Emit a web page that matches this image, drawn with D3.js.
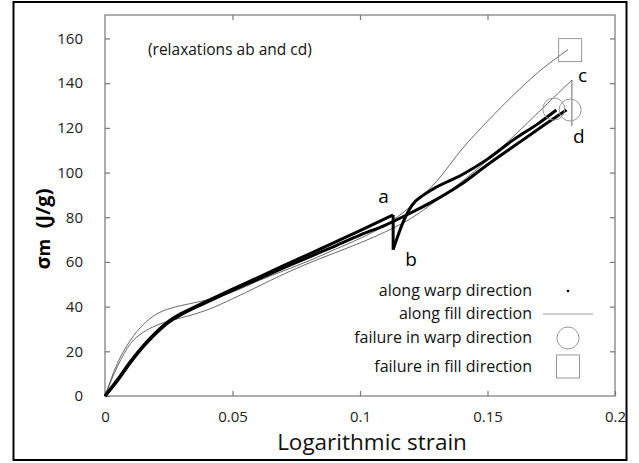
<!DOCTYPE html>
<html>
<head>
<meta charset="utf-8">
<script src="https://cdn.jsdelivr.net/npm/d3@7"></script>
<style>
body { margin: 0; background: #fff; }
text { font-family: "Open Sans", sans-serif; }
</style>
</head>
<body>
<svg id="chart" width="639" height="463"></svg>
<script>
// [strain, sigma_m] pairs
var warpAPre = [[0,0],[0.005,7.5],[0.01,15.5],[0.015,22.5],[0.02,28.5],[0.025,33.5],[0.03,37],[0.035,39.8],
  [0.04,42.5],[0.05,47.8],[0.06,53],[0.07,58.3],[0.08,63.5],[0.09,68.7],[0.1,74],[0.113,81]];
var warpAPost = [[0.113,65.5],[0.117,78],[0.1205,85.5],[0.125,90],[0.13,93.5],[0.14,99],[0.15,106],
  [0.16,114.5],[0.17,122],[0.177,128]];
var warpB = [[0,0],[0.005,7],[0.01,15],[0.015,22],[0.02,28],[0.025,33],[0.03,36.5],[0.04,42],[0.05,47.3],
  [0.06,52.3],[0.07,57.3],[0.08,62.2],[0.09,67],[0.1,72],[0.11,76.5],[0.12,82],[0.13,88],[0.14,95],
  [0.15,103.5],[0.16,111.5],[0.17,119.5],[0.181,128]];
var fillA = [[0,0],[0.005,15],[0.01,25],[0.015,32],[0.02,36.5],[0.025,39],[0.03,40.5],[0.04,43],[0.05,46.5],
  [0.06,51.5],[0.07,56],[0.08,60.5],[0.09,65.5],[0.1,70.5],[0.11,76.5],[0.12,85],[0.13,96],[0.14,110.5],
  [0.15,123],[0.16,134.5],[0.17,145],[0.1816,155]];
var fillB = [[0,0],[0.005,13.5],[0.01,23.5],[0.015,28.5],[0.02,31.5],[0.025,33.5],[0.03,35],[0.04,38.5],
  [0.05,43.5],[0.06,49],[0.07,54.5],[0.08,59.5],[0.09,64],[0.1,68.5],[0.11,73.5],[0.12,79.5],[0.13,87.5],
  [0.14,96],[0.15,105.5],[0.16,116],[0.17,127],[0.1831,141.4]];
var relaxAB = [[0.113,81],[0.113,65.5]];
var relaxCD = [[0.1831,141.4],[0.1831,120.8]];
var warpFailures = [[0.176,128.4],[0.1824,128]];
var fillFailures = [[0.1824,154.8]];
var xTicks = [0, 0.05, 0.1, 0.15, 0.2];
var xTickLabels = ["0", "0.05", "0.1", "0.15", "0.2"];
var yTicks = [0, 20, 40, 60, 80, 100, 120, 140, 160];
var legendLabels = ["along warp direction", "along fill direction", "failure in warp direction", "failure in fill direction"];

var svg = d3.select("#chart");

var x = d3.scaleLinear().domain([0, 0.2]).range([105, 615]);
var y = d3.scaleLinear().domain([0, 170.5]).range([396, 15]);

// outer frame
svg.append("rect").attr("x", 13.5).attr("y", 2).attr("width", 613).attr("height", 458)
  .attr("fill", "none").attr("stroke", "#000").attr("stroke-width", 2);

// plot box
svg.append("rect").attr("x", 105).attr("y", 15).attr("width", 510).attr("height", 381)
  .attr("fill", "none").attr("stroke", "#777").attr("stroke-width", 1.2);

var fmt = function(d){ return xTickLabels[xTicks.indexOf(d)]; };

var gx = svg.append("g").attr("transform", "translate(0,396)")
  .call(d3.axisBottom(x).tickValues(xTicks).tickFormat(fmt).tickSize(-5).tickPadding(15));
var gy = svg.append("g").attr("transform", "translate(105,0)")
  .call(d3.axisLeft(y).tickValues(yTicks).tickSize(-5).tickPadding(22));
var gt = svg.append("g").attr("transform", "translate(0,15)")
  .call(d3.axisTop(x).tickValues(xTicks.slice(1, 4)).tickFormat("").tickSize(-5));
var gr = svg.append("g").attr("transform", "translate(615,0)")
  .call(d3.axisRight(y).tickValues(yTicks.slice(1)).tickFormat("").tickSize(-5));

[gx, gy, gt, gr].forEach(function(g){
  g.select(".domain").remove();
  g.selectAll(".tick line").attr("stroke", "#777").attr("stroke-width", 1.2);
  g.selectAll(".tick text").attr("fill", "#222").style("font-size", "15px")
    .style("font-family", "'Open Sans', sans-serif");
});

var line = d3.line().x(function(d){ return x(d[0]); }).y(function(d){ return y(d[1]); })
  .curve(d3.curveMonotoneX);
var straight = d3.line().x(function(d){ return x(d[0]); }).y(function(d){ return y(d[1]); });

// fill direction: thin lines
[fillA, fillB].forEach(function(s){
  svg.append("path").attr("d", line(s)).attr("fill", "none")
    .attr("stroke", "#444").attr("stroke-width", 0.8);
});
svg.append("path").attr("d", straight(relaxCD)).attr("fill", "none")
  .attr("stroke", "#444").attr("stroke-width", 0.8);

// warp direction: dense dots, drawn heavy
[warpAPre, warpAPost, warpB].forEach(function(s){
  svg.append("path").attr("d", line(s)).attr("fill", "none")
    .attr("stroke", "#000").attr("stroke-width", 3);
});
svg.append("path").attr("d", straight(relaxAB)).attr("fill", "none")
  .attr("stroke", "#000").attr("stroke-width", 3);

// failure markers
svg.selectAll(".wfail").data(warpFailures).enter().append("circle")
  .attr("cx", function(d){ return x(d[0]); }).attr("cy", function(d){ return y(d[1]); })
  .attr("r", 11).attr("fill", "none").attr("stroke", "#999").attr("stroke-width", 1);
svg.selectAll(".ffail").data(fillFailures).enter().append("rect")
  .attr("x", function(d){ return x(d[0]) - 11.5; }).attr("y", function(d){ return y(d[1]) - 11.5; })
  .attr("width", 23).attr("height", 23).attr("fill", "none").attr("stroke", "#999").attr("stroke-width", 1);

// relaxation letters
var letters = [
  {t: "a", p: relaxAB[0], dx: -15, dy: -12},
  {t: "b", p: relaxAB[1], dx: 12, dy: 16},
  {t: "c", p: relaxCD[0], dx: 6, dy: 2},
  {t: "d", p: relaxCD[1], dx: 1, dy: 17}
];
letters.forEach(function(l){
  svg.append("text").attr("x", x(l.p[0]) + l.dx).attr("y", y(l.p[1]) + l.dy)
    .style("font-size", "19px").attr("fill", "#000").text(l.t);
});

svg.append("text").attr("x", 148).attr("y", 55).style("font-size", "15.5px").attr("fill", "#111")
  .text("(relaxations ab and cd)");

// legend
var legRows = [296, 319, 343, 372];
legendLabels.forEach(function(t, i){
  svg.append("text").attr("x", 532).attr("y", legRows[i]).attr("text-anchor", "end")
    .style("font-size", "16px").attr("fill", "#111").text(t);
});
svg.append("circle").attr("cx", 568).attr("cy", legRows[0] - 5).attr("r", 1.3).attr("fill", "#000");
svg.append("line").attr("x1", 543).attr("x2", 593).attr("y1", legRows[1] - 5).attr("y2", legRows[1] - 5)
  .attr("stroke", "#888").attr("stroke-width", 0.8);
svg.append("circle").attr("cx", 568).attr("cy", legRows[2] - 5).attr("r", 11)
  .attr("fill", "none").attr("stroke", "#999");
svg.append("rect").attr("x", 556.5).attr("y", legRows[3] - 17).attr("width", 23).attr("height", 23)
  .attr("fill", "none").attr("stroke", "#999");

// axis titles
svg.append("text").attr("x", 372).attr("y", 450).attr("text-anchor", "middle")
  .style("font-size", "22.5px").attr("fill", "#111").text("Logarithmic strain");

var yt = svg.append("text").attr("transform", "translate(50,229) rotate(-90)").attr("text-anchor", "middle")
  .style("font-size", "20px").style("font-weight", "bold").attr("fill", "#000");
yt.append("tspan").text("σ");
yt.append("tspan").text("m").style("font-size", "18px");
yt.append("tspan").text("  (J/g)").attr("xml:space", "preserve");
</script>
</body>
</html>
